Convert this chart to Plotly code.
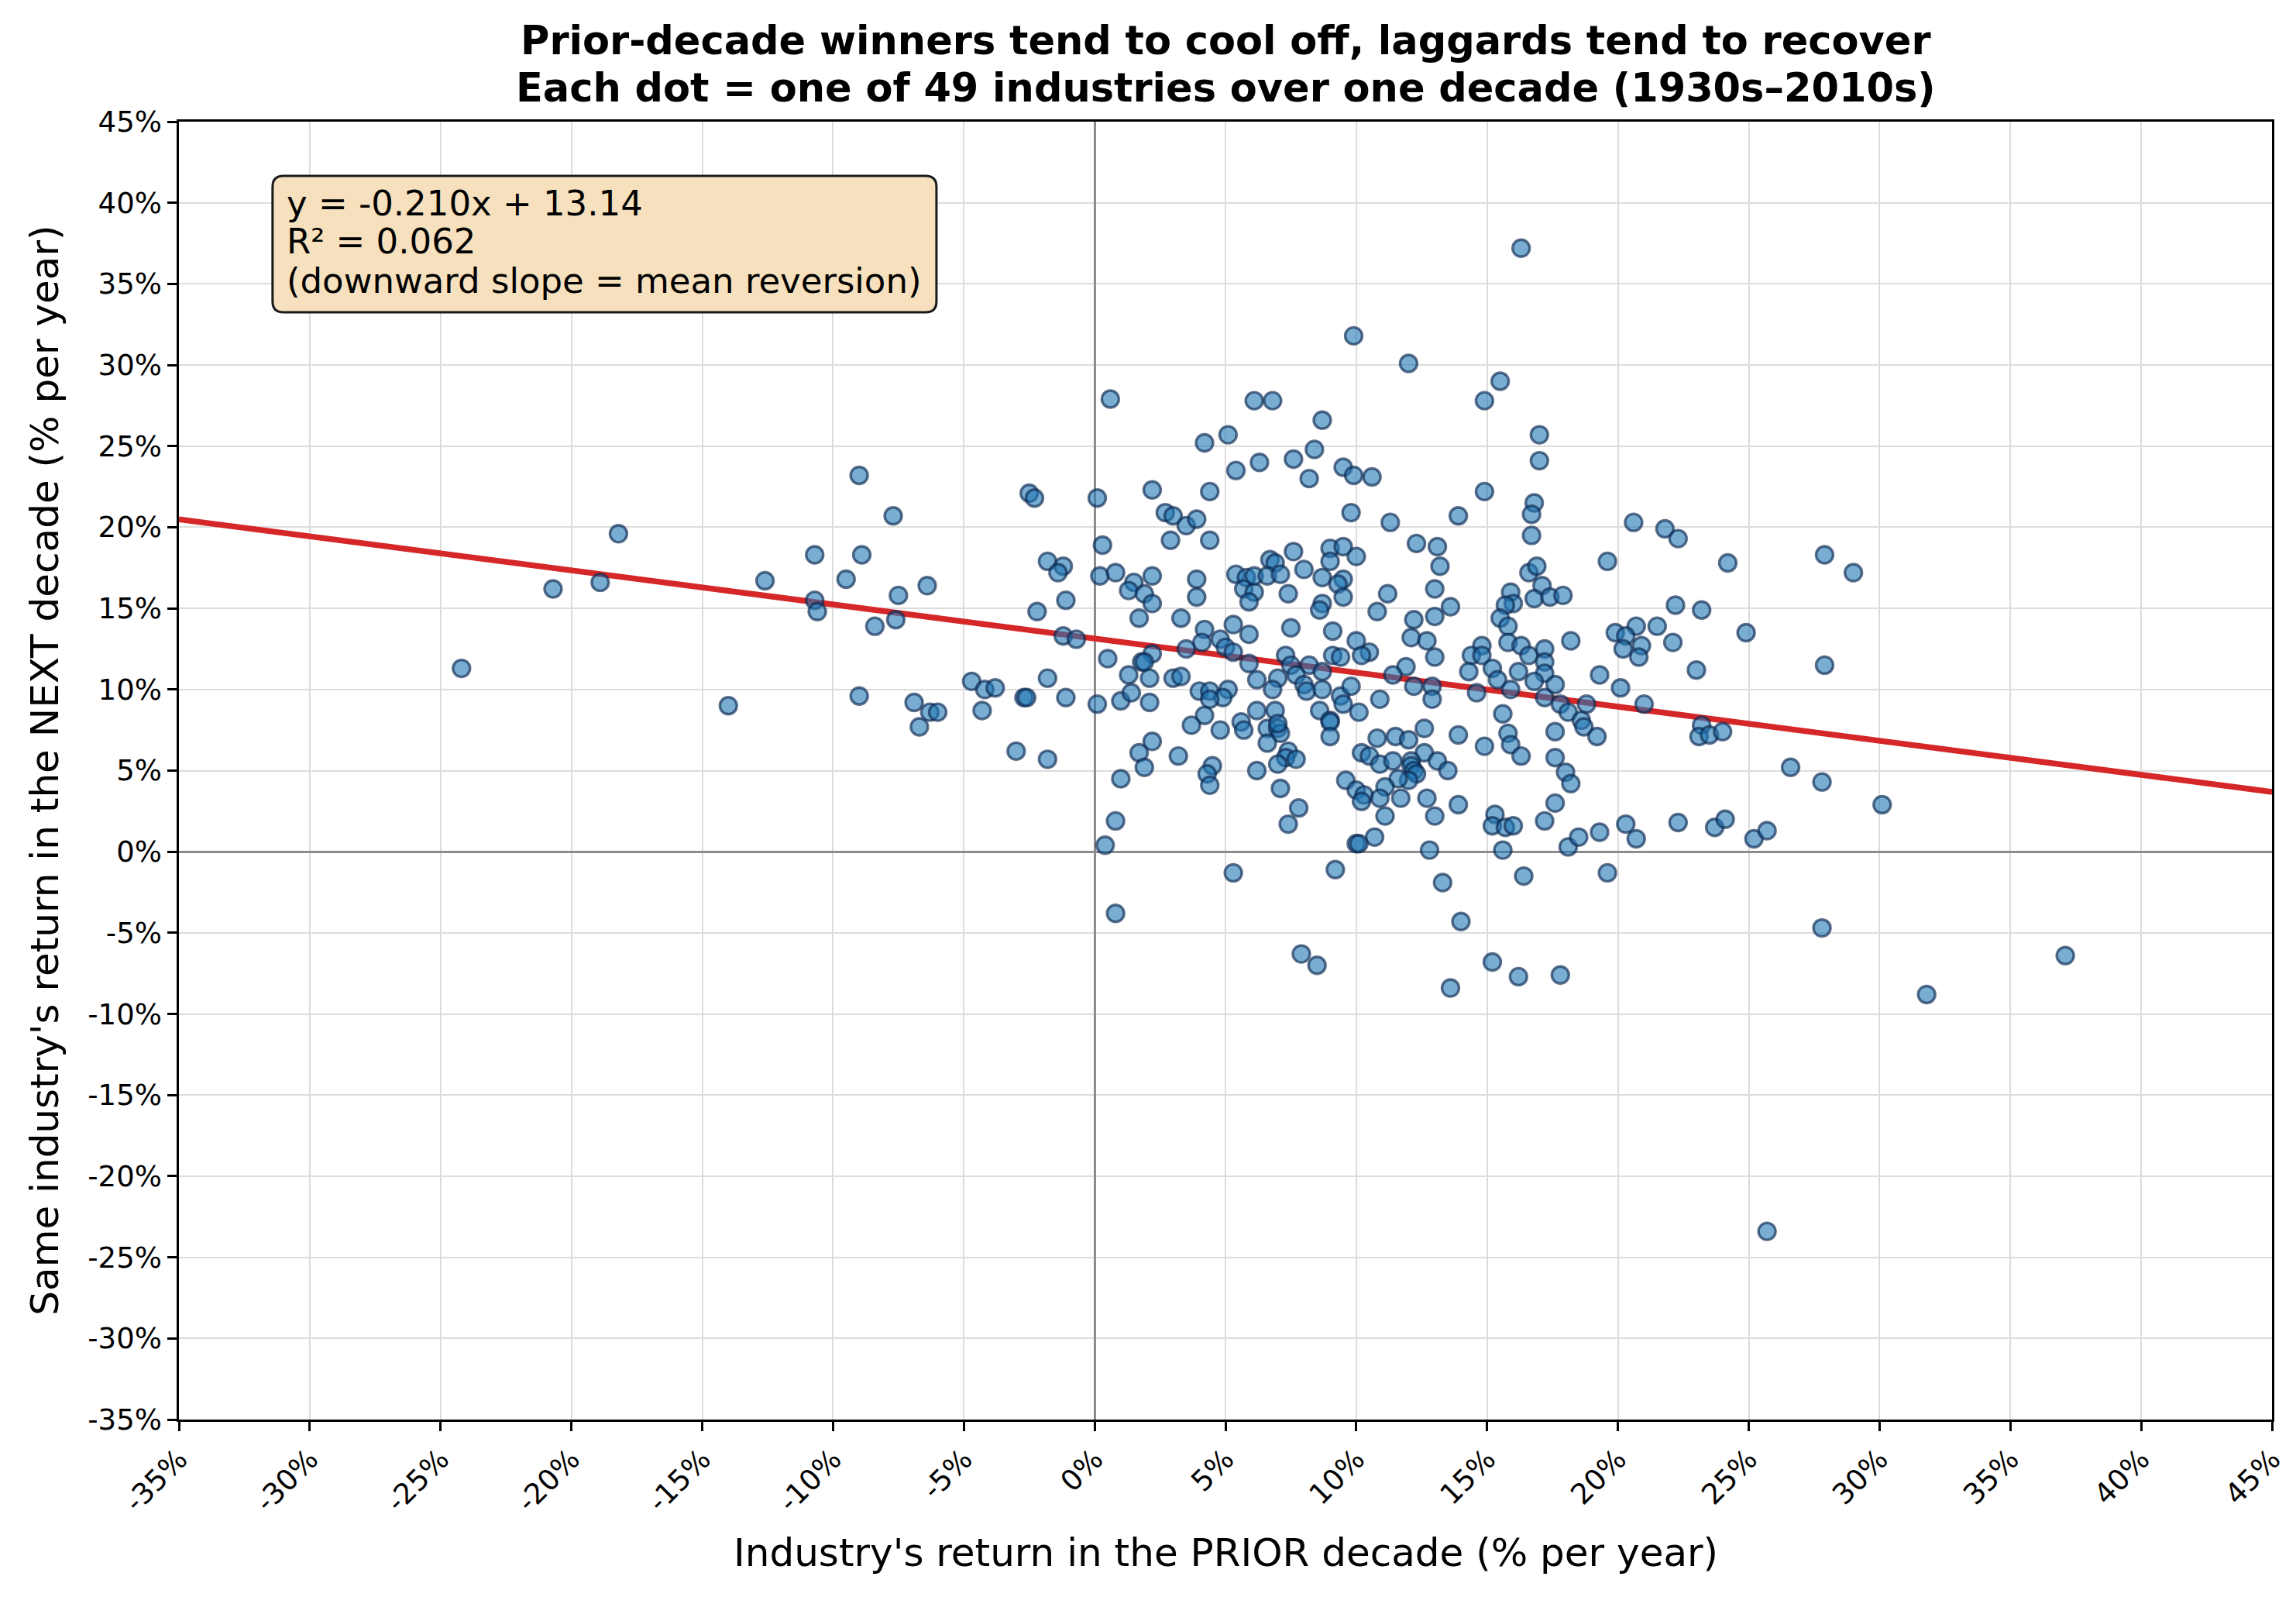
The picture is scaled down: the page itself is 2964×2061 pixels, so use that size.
import plotly.graph_objects as go

# ---------------- data ----------------
PRIOR_LEFT = [-9.0, -7.7, -18.2, -10.7, -8.9, -12.6, -9.5, -6.4, -20.7, -18.9, -10.7, -10.6, -7.5, -8.4, -7.6,
              -24.2, -14.0, -9.0, -6.9, -6.3, -6.0, -6.7]
NEXT_LEFT = [23.2, 20.7, 19.6, 18.3, 18.3, 16.7, 16.8, 16.4, 16.2, 16.6, 15.5, 14.8, 15.8, 13.9, 14.3,
             11.3, 9.0, 9.6, 9.2, 8.6, 8.6, 7.7]

PRIOR_A = [0.6, 6.1, 4.2, 5.1, 6.3, 5.4, -2.5, -2.3, 0.1, 2.2, 4.4, 2.7, 3.0, 3.5, 3.9, 2.9, 4.4, 0.3, -1.8, -1.2,
           -1.4, 0.2, 0.8, 2.2, 1.5, 1.3, 1.9, 2.2, 3.9, 3.9, 5.4, 5.8, 5.7, 6.1, 5.9, 6.1, -1.1, -2.2, 1.7, 3.3,
           4.2, 5.3, 5.9, 4.8, 5.0, 5.3, 4.1, 3.5, 2.2, 1.8, 1.9, 0.5, -1.2, -0.7, 5.9]
NEXT_A = [27.9, 27.8, 25.2, 25.7, 24.0, 23.5, 22.1, 21.8, 21.8, 22.3, 22.2, 20.9, 20.7, 20.1, 20.5, 19.2, 19.2, 18.9,
          17.9, 17.6, 17.2, 17.0, 17.2, 17.0, 16.6, 16.1, 15.9, 15.3, 16.8, 15.7, 17.1, 16.9, 16.2, 16.0, 15.4, 17.0,
          15.5, 14.8, 14.4, 14.4, 13.7, 14.0, 13.4, 13.1, 12.6, 12.3, 12.9, 12.5, 12.2, 11.7, 11.7, 11.9, 13.3, 13.1,
          11.6]

PRIOR_B = [-4.7, -4.2, -3.8, -4.3, -1.8, -2.7, -2.6, -1.1, 0.1, 1.0, 1.3, 2.1, 1.4, 2.1, 3.0, 3.3, 4.0, 4.4, 5.1, 4.9,
           4.4, 4.2, 3.7, 4.8, 5.6, 5.7, 6.2, 6.2, -3.0, -1.8, 2.2, 1.7, 1.9, 1.0, 3.2, 4.5, 4.3, 4.4, 6.2, 0.8,
           0.4, 5.3, 0.8]
NEXT_B = [10.5, 10.0, 10.1, 8.7, 10.7, 9.5, 9.5, 9.5, 9.1, 9.3, 10.9, 10.7, 9.8, 9.2, 10.7, 10.8, 9.9, 9.9, 10.0, 9.5,
          9.4, 8.4, 7.8, 7.5, 8.0, 7.5, 8.7, 10.6, 6.2, 5.7, 6.8, 6.1, 5.2, 4.5, 5.9, 5.3, 4.8, 4.1, 5.0, 1.9,
          0.4, -1.3, -3.8]

PRIOR_C = [9.9, 12.0, 6.8, 15.5, 14.9, 8.7, 17.0, 8.4, 7.6, 17.0, 8.2, 9.5, 9.9, 10.6, 14.9, 16.8, 16.7, 16.7, 9.8,
           11.3, 13.9, 12.3, 13.1, 13.2, 7.6, 6.7, 6.9, 6.6, 7.1, 9.0, 9.5, 9.0, 10.0, 8.0, 8.7, 9.5, 9.3, 9.5, 7.4,
           8.7, 8.6, 11.2, 10.8, 7.5, 9.1, 13.0, 13.6, 13.0, 12.2, 12.1, 12.7, 13.0, 10.0, 10.5, 10.2, 9.1, 9.4,
           7.3, 7.5, 8.2, 11.9, 15.9, 16.0, 15.7, 15.5, 15.8, 16.6, 16.9, 17.1, 16.8, 17.4, 17.9, 18.2, 15.8, 16.3,
           16.6, 17.2, 17.2, 14.8, 14.4, 14.8, 15.2, 17.2]
NEXT_C = [31.8, 30.1, 27.8, 29.0, 27.8, 26.6, 25.7, 24.8, 24.2, 24.1, 23.0, 23.7, 23.2, 23.1, 22.2, 21.5, 20.8, 19.5,
          20.9, 20.3, 20.7, 19.0, 18.8, 17.6, 18.5, 18.0, 17.8, 17.0, 17.1, 18.7, 18.8, 17.9, 18.2, 17.4, 16.9, 16.8,
          16.5, 15.7, 15.9, 15.3, 14.9, 15.9, 14.8, 13.8, 13.6, 16.2, 15.1, 14.5, 14.3, 13.2, 13.0, 12.0, 13.0, 12.3,
          12.1, 12.1, 12.0, 12.1, 11.5, 11.5, 11.4, 16.0, 15.3, 15.2, 14.4, 13.9, 17.2, 17.6, 16.4, 15.6, 15.7, 15.8,
          13.0, 12.9, 12.7, 12.1, 12.5, 11.7, 12.7, 12.1, 12.1, 11.3, 11.0]

PRIOR_D = [7.0, 7.7, 8.7, 6.8, 8.0, 8.1, 8.7, 9.4, 9.5, 9.8, 10.1, 10.9, 8.6, 9.0, 9.0, 9.0, 6.9, 6.6, 7.0, 7.1, 7.0,
           6.6, 7.4, 7.3, 7.7, 7.0, 7.1, 7.8, 7.4, 11.4, 12.2, 12.9, 12.9, 14.3, 16.2, 15.4, 15.9, 16.8, 17.6, 14.6,
           17.2, 17.8, 18.1, 15.6, 12.6, 13.9, 14.9, 15.8, 15.9, 16.3, 17.6, 17.6, 18.0, 18.2, 17.6, 17.2, 18.1,
           10.8, 11.5, 12.0, 12.6, 13.1, 13.5, 10.2, 10.5, 10.9, 11.4, 12.1, 12.1, 12.2, 12.3, 12.0, 11.6, 9.6, 10.0,
           10.3, 10.2, 11.1, 10.9, 11.7, 11.1, 12.7, 13.0, 13.9, 15.3, 15.2, 15.7, 16.0, 15.6, 10.7, 10.0, 10.1,
           12.8, 9.2, 13.3, 16.4, 14.0, 7.9, 8.5, 15.2, 16.2, 17.8, 13.6]
NEXT_D = [10.7, 10.9, 11.1, 10.0, 10.3, 9.9, 10.0, 9.6, 9.1, 10.2, 8.6, 9.4, 8.7, 8.1, 8.0, 7.1, 8.7, 7.6, 7.6, 7.3,
          7.9, 6.7, 6.2, 5.8, 5.7, 5.4, 3.9, 2.7, 1.7, 10.9, 10.2, 10.2, 9.4, 11.1, 11.1, 10.6, 10.0, 10.5, 10.3,
          9.8, 9.5, 9.1, 8.6, 8.5, 7.6, 7.2, 6.5, 7.3, 6.6, 5.9, 7.4, 5.8, 4.9, 4.2, 3.0, 1.9, 0.3, 7.0, 7.1, 6.9,
          6.1, 5.6, 5.0, 6.1, 5.9, 5.4, 5.6, 5.6, 5.3, 5.0, 4.8, 4.4, 4.5, 4.4, 3.8, 3.5, 3.1, 4.0, 3.3, 3.3, 2.2,
          3.3, 2.2, 2.9, 2.3, 1.6, 1.5, 1.6, 0.1, 0.9, 0.5, 0.5, 0.1, -1.1, -1.9, -1.5, -4.3, -6.3, -7.0, -6.8,
          -7.7, -7.6, -8.4]

PRIOR_E = [20.6, 21.8, 22.3, 19.6, 24.2, 27.9, 29.0, 22.2, 23.2, 19.9, 20.7, 20.3, 20.2, 20.9, 20.8, 21.5, 22.1,
           24.9, 27.9, 23.0, 19.3, 20.1, 18.8, 18.6, 18.7, 19.2, 21.0, 23.2, 23.1, 23.5, 24.0, 26.6, 27.8, 30.1,
           20.3, 20.7, 19.3, 18.5, 22.3, 23.7, 24.1, 25.2, 25.7, 19.6, 27.8, 16.3, 25.7, 31.8, 37.1]
NEXT_E = [20.3, 19.9, 19.3, 17.9, 17.8, 18.3, 17.2, 15.2, 14.9, 13.5, 13.9, 13.3, 12.5, 12.7, 12.0, 13.9, 12.9,
          13.5, 11.5, 11.2, 10.9, 10.1, 9.1, 8.1, 7.7, 7.1, 9.1, 7.8, 7.1, 7.2, 7.4, 5.2, 4.3, 2.9,
          1.7, 0.8, 1.2, 0.9, 1.8, 1.5, 2.0, 0.8, 1.3, -1.3, -4.7, 37.2, -23.4, -8.8, -6.4]

PRIOR_RETURN = PRIOR_LEFT + PRIOR_A + PRIOR_B + PRIOR_C + PRIOR_D + PRIOR_E
NEXT_RETURN = NEXT_LEFT + NEXT_A + NEXT_B + NEXT_C + NEXT_D + NEXT_E

FIT_SLOPE = -0.210
FIT_INTERCEPT = 13.14
FIT_R2 = 0.062
AXIS_MIN, AXIS_MAX, AXIS_STEP = -35, 45, 5
TICK_VALUES = list(range(AXIS_MIN, AXIS_MAX + 1, AXIS_STEP))
TICK_LABELS = [f"{v}%" for v in TICK_VALUES]

TITLE_LINES = ["Prior-decade winners tend to cool off, laggards tend to recover",
               "Each dot = one of 49 industries over one decade (1930s\u20132010s)"]
X_LABEL = "Industry's return in the PRIOR decade (% per year)"
Y_LABEL = "Same industry's return in the NEXT decade (% per year)"
BOX_LINES = [f"y = {FIT_SLOPE:.3f}x + {FIT_INTERCEPT:.2f}", f"R\u00b2 = {FIT_R2:.3f}",
             "(downward slope = mean reversion)"]

# ---------------- figure ----------------
W, H = 2964, 2061
L, R, T, B = 231, 28, 157, 229
PW, PH = W - L - R, H - T - B
FONT = "DejaVu Sans"


def px_to_paper_x(px):
    return (px - L) / PW


def px_to_paper_y(py):
    return (H - B - py) / PH


fig = go.Figure()

fit_x = [AXIS_MIN, AXIS_MAX]
fit_y = [FIT_SLOPE * v + FIT_INTERCEPT for v in fit_x]
fig.add_trace(go.Scatter(x=fit_x, y=fit_y, mode="lines",
                         line=dict(color="#d62728", width=7.5), showlegend=False, hoverinfo="skip"))

fig.add_trace(go.Scatter(
    x=PRIOR_RETURN, y=NEXT_RETURN, mode="markers", showlegend=False,
    marker=dict(size=22, color="rgba(31,119,180,0.6)",
                line=dict(color="rgba(12,40,80,0.65)", width=3.4)),
))

axis_common = dict(
    range=[AXIS_MIN, AXIS_MAX], tickmode="array", tickvals=TICK_VALUES, ticktext=TICK_LABELS,
    showgrid=True, gridcolor="#dcdcdc", gridwidth=2,
    showline=True, linecolor="black", linewidth=2.5, mirror=True,
    ticks="outside", ticklen=12, tickwidth=2.5, tickcolor="black",
    zeroline=True, zerolinecolor="#8c8c8c", zerolinewidth=3.2,
    tickfont=dict(family=FONT, size=37, color="black"),
)
fig.update_xaxes(**axis_common, tickangle=-45)
fig.update_yaxes(**axis_common)

# rounded annotation box (pixel geometry converted to paper coordinates)
bx0, bx1, by0, by1, rad = 352, 1210, 227, 403, 14
def P(xp, yp):
    return f"{px_to_paper_x(xp):.5f},{px_to_paper_y(yp):.5f}"
box_path = (f"M {P(bx0 + rad, by0)} L {P(bx1 - rad, by0)} Q {P(bx1, by0)} {P(bx1, by0 + rad)} "
            f"L {P(bx1, by1 - rad)} Q {P(bx1, by1)} {P(bx1 - rad, by1)} "
            f"L {P(bx0 + rad, by1)} Q {P(bx0, by1)} {P(bx0, by1 - rad)} "
            f"L {P(bx0, by0 + rad)} Q {P(bx0, by0)} {P(bx0 + rad, by0)} Z")
shapes = [dict(type="path", path=box_path, xref="paper", yref="paper",
               fillcolor="#f6e0bd", line=dict(color="#1a1a1a", width=3), layer="above")]

annotations = [
    dict(text=f"<b>{TITLE_LINES[0]}</b>", x=0.5, y=px_to_paper_y(53), xref="paper", yref="paper",
         xanchor="center", yanchor="middle", showarrow=False, font=dict(family=FONT, size=51, color="black")),
    dict(text=f"<b>{TITLE_LINES[1]}</b>", x=0.5, y=px_to_paper_y(113), xref="paper", yref="paper",
         xanchor="center", yanchor="middle", showarrow=False, font=dict(family=FONT, size=51, color="black")),
    dict(text=X_LABEL, x=0.5, y=px_to_paper_y(2004), xref="paper", yref="paper",
         xanchor="center", yanchor="middle", showarrow=False, font=dict(family=FONT, size=50, color="black")),
    dict(text=Y_LABEL, x=px_to_paper_x(57), y=0.5, xref="paper", yref="paper", textangle=-90,
         xanchor="center", yanchor="middle", showarrow=False, font=dict(family=FONT, size=50, color="black")),
]
for line_text, cy in zip(BOX_LINES, [262, 312, 362]):
    annotations.append(dict(text=line_text, x=px_to_paper_x(368), y=px_to_paper_y(cy), xref="paper",
                            yref="paper", xanchor="left", yanchor="middle", align="left", showarrow=False,
                            font=dict(family=FONT, size=45, color="black")))

fig.update_layout(
    width=W, height=H, autosize=False,
    margin=dict(l=L, r=R, t=T, b=B, pad=0),
    paper_bgcolor="white", plot_bgcolor="white",
    annotations=annotations, shapes=shapes, showlegend=False,
)

fig.write_html("out.html")
